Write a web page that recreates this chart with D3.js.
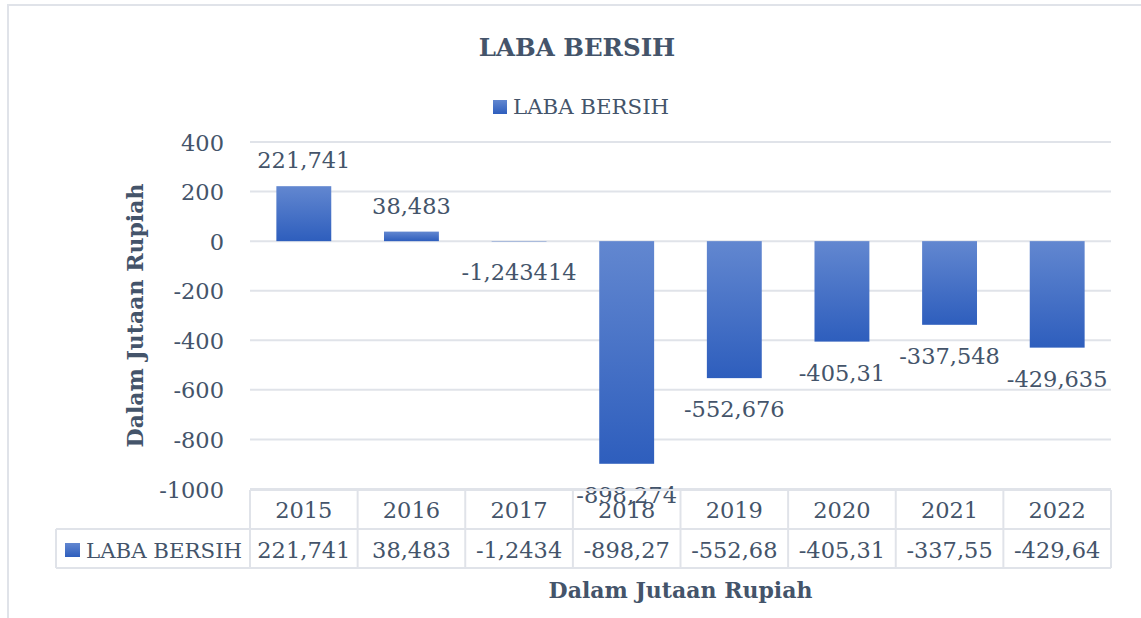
<!DOCTYPE html>
<html>
<head>
<meta charset="utf-8">
<script src="https://cdn.jsdelivr.net/npm/d3@7"></script>
<style>
  html, body { margin: 0; padding: 0; background: #fff; }
  svg { display: block; }
  text { font-family: "DejaVu Serif", "Liberation Serif", serif; fill: #44546A; }
</style>
</head>
<body>
<svg id="chart" width="1141" height="618"></svg>
<script>
// ---- data ----
const categories = ["2015", "2016", "2017", "2018", "2019", "2020", "2021", "2022"];
const values = [221.741, 38.483, -1.243414, -898.274, -552.676, -405.31, -337.548, -429.635];
const dataLabels = ["221,741", "38,483", "-1,243414", "-898,274", "-552,676", "-405,31", "-337,548", "-429,635"];
const tableLabels = ["221,741", "38,483", "-1,2434", "-898,27", "-552,68", "-405,31", "-337,55", "-429,64"];
const yTicks = [400, 200, 0, -200, -400, -600, -800, -1000];
const seriesName = "LABA BERSIH";
const chartTitle = "LABA BERSIH";
const axisTitle = "Dalam Jutaan Rupiah";

// ---- layout ----
const svg = d3.select("#chart");
const plot = { left: 250, right: 1111, top: 142, bottom: 489 };
const textColor = "#44546A";
const gridColor = "#E0E3E9";
const numFont = 22.5;

const defs = svg.append("defs");
const grad = defs.append("linearGradient").attr("id", "barGrad")
  .attr("x1", 0).attr("y1", 0).attr("x2", 0).attr("y2", 1);
grad.append("stop").attr("offset", "0%").attr("stop-color", "#6287D0");
grad.append("stop").attr("offset", "100%").attr("stop-color", "#2E5EBD");

// outer border
svg.append("path")
  .attr("d", `M8,618 L8,5 L1141,5`)
  .attr("fill", "none").attr("stroke", gridColor).attr("stroke-width", 2);

const x = d3.scaleBand().domain(categories).range([plot.left, plot.right])
  .paddingInner(0.49).paddingOuter(0.245);
const xCell = d3.scaleBand().domain(categories).range([plot.left, plot.right]).padding(0);
const y = d3.scaleLinear().domain([-1000, 400]).range([plot.bottom, plot.top]);

// gridlines
svg.append("g").selectAll("line").data(yTicks).join("line")
  .attr("x1", plot.left).attr("x2", plot.right)
  .attr("y1", d => y(d)).attr("y2", d => y(d))
  .attr("stroke", gridColor).attr("stroke-width", 2);

// y tick labels
const yAxis = d3.axisLeft(y).tickValues(yTicks).tickSize(0).tickPadding(0).tickFormat(d => String(d));
const gy = svg.append("g").attr("transform", `translate(224,0)`).call(yAxis);
gy.select(".domain").remove();
gy.selectAll("text")
  .attr("font-family", '"DejaVu Serif", serif')
  .attr("font-size", numFont).attr("fill", textColor)
  .attr("dy", "0.36em");

// bars
svg.append("g").selectAll("rect").data(values).join("rect")
  .attr("x", (d, i) => x(categories[i]))
  .attr("width", x.bandwidth())
  .attr("y", d => Math.min(y(d), y(0)))
  .attr("height", d => Math.abs(y(d) - y(0)))
  .attr("fill", "url(#barGrad)");

// data labels
svg.append("g").selectAll("text").data(values).join("text")
  .attr("x", (d, i) => x(categories[i]) + x.bandwidth() / 2)
  .attr("y", d => d >= 0 ? y(d) - 18 : y(d) + 39)
  .attr("text-anchor", "middle")
  .attr("font-size", numFont)
  .text((d, i) => dataLabels[i]);

// title
svg.append("text").attr("x", 577).attr("y", 56).attr("text-anchor", "middle")
  .attr("font-weight", "bold").attr("font-size", 24.5).text(chartTitle);

// top legend
svg.append("rect").attr("x", 493).attr("y", 100).attr("width", 14).attr("height", 14).attr("fill", "url(#barGrad)");
svg.append("text").attr("x", 513).attr("y", 114).attr("font-size", 21.3).text(seriesName);

// y axis title
svg.append("text")
  .attr("transform", `translate(143, ${(plot.top + plot.bottom) / 2}) rotate(-90)`)
  .attr("text-anchor", "middle").attr("font-weight", "bold").attr("font-size", 22)
  .text(axisTitle);

// x axis title
svg.append("text").attr("x", (plot.left + plot.right) / 2).attr("y", 598)
  .attr("text-anchor", "middle").attr("font-weight", "bold").attr("font-size", 22)
  .text(axisTitle);

// data table
const rowTop = 490, rowMid = 529, rowBot = 568, tableLeft = 56;
const tbl = svg.append("g").attr("stroke", gridColor).attr("stroke-width", 2).attr("fill", "none");
tbl.append("line").attr("x1", plot.left).attr("x2", plot.right).attr("y1", rowTop).attr("y2", rowTop);
tbl.append("line").attr("x1", tableLeft).attr("x2", plot.right).attr("y1", rowMid).attr("y2", rowMid);
tbl.append("line").attr("x1", tableLeft).attr("x2", plot.right).attr("y1", rowBot).attr("y2", rowBot);
tbl.append("line").attr("x1", tableLeft).attr("x2", tableLeft).attr("y1", rowMid).attr("y2", rowBot);
tbl.selectAll("line.v").data(categories.concat(["end"])).join("line").attr("class", "v")
  .attr("x1", (d, i) => plot.left + i * xCell.step()).attr("x2", (d, i) => plot.left + i * xCell.step())
  .attr("y1", rowTop).attr("y2", rowBot);

svg.append("g").selectAll("text").data(categories).join("text")
  .attr("x", d => xCell(d) + xCell.bandwidth() / 2).attr("y", 518)
  .attr("text-anchor", "middle").attr("font-size", numFont).text(d => d);
svg.append("g").selectAll("text").data(tableLabels).join("text")
  .attr("x", (d, i) => xCell(categories[i]) + xCell.bandwidth() / 2).attr("y", 558)
  .attr("text-anchor", "middle").attr("font-size", numFont).text(d => d);

svg.append("rect").attr("x", 65).attr("y", 543).attr("width", 15).attr("height", 14).attr("fill", "url(#barGrad)");
svg.append("text").attr("x", 86).attr("y", 558).attr("font-size", 21.3).text(seriesName);
</script>
</body>
</html>
